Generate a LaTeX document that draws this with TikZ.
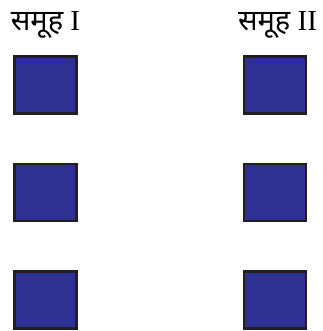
\documentclass[tikz,border=0pt]{standalone}
\usepackage{fontspec}
\setmainfont{Liberation Serif}
\newfontfamily\hindifont[Script=Devanagari]{Noto Sans}
\usepackage{xcolor}
\definecolor{blokblue}{HTML}{2E3192}
\definecolor{blokrand}{HTML}{231F20}

\begin{document}
\begin{tikzpicture}[x=1pt,y=-1pt,font=\fontsize{29}{32}\selectfont]
\tikzset{
  blok/.style={draw=blokrand,fill=blokblue,line width=2.6pt,minimum width=62pt,minimum height=57pt,inner sep=0pt},
  kop/.style={inner sep=0pt,anchor=base}
}
\useasboundingbox (0,0) rectangle (322,331);

% koppen
\node[kop] (kop1) at (45.5,31) {{\hindifont समूह} I};
\node[kop] (kop2) at (277.5,31) {{\hindifont समूह} II};

% groep I
\node[blok] (a1) at (45.5,85) {};
\node[blok] (a2) at (45.5,192.5) {};
\node[blok] (a3) at (45.5,300) {};

% groep II
\node[blok] (b1) at (275,85) {};
\node[blok] (b2) at (275,192.5) {};
\node[blok] (b3) at (275,300) {};

\end{tikzpicture}
\end{document}
